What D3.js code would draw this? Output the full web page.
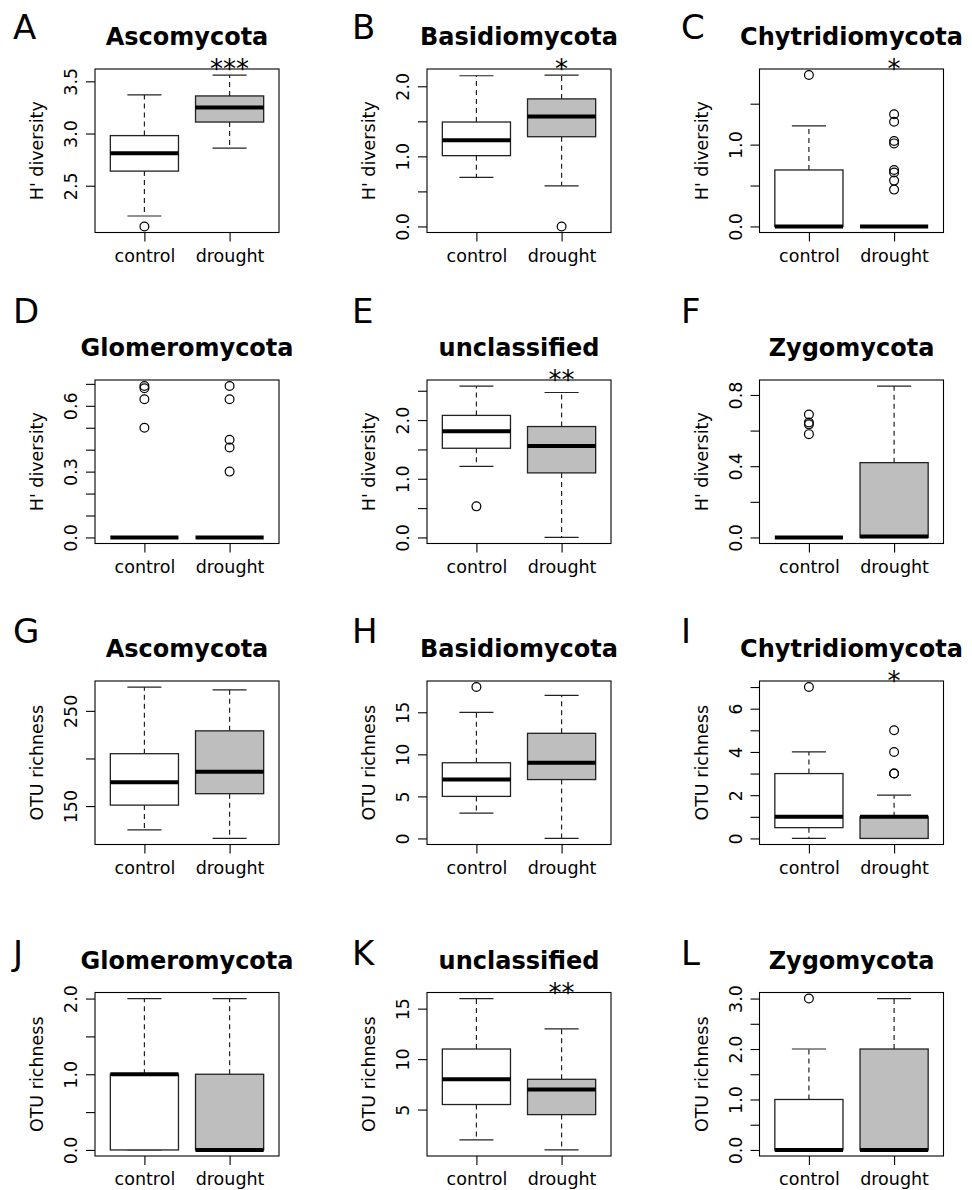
<!DOCTYPE html>
<html>
<head>
<meta charset="utf-8">
<script src="https://cdn.jsdelivr.net/npm/d3@7"></script>
<style>
  body { margin: 0; background: #fff; }
  text { font-family: 'DejaVu Sans', sans-serif; }
</style>
</head>
<body>
<div id="chart"></div>
<script>
// panel data (A..L)
const panelLetters = ["A", "B", "C", "D", "E", "F", "G", "H", "I", "J", "K", "L"]
const phyla = ["Ascomycota", "Basidiomycota", "Chytridiomycota", "Glomeromycota", "unclassified", "Zygomycota",
    "Ascomycota", "Basidiomycota", "Chytridiomycota", "Glomeromycota", "unclassified", "Zygomycota"]
const groups = ["control", "drought"]
const yTitles = ["H' diversity", "H' diversity", "H' diversity", "H' diversity", "H' diversity", "H' diversity",
    "OTU richness", "OTU richness", "OTU richness", "OTU richness", "OTU richness", "OTU richness"]
const signif = ["***", "*", "*", "", "**", "", "", "", "*", "", "**", ""]

// [lower whisker, Q1, median, Q3, upper whisker]
const controlStats = [
    [2.21, 2.64, 2.81, 2.98, 3.37],
    [0.70, 1.01, 1.23, 1.49, 2.15],
    [0, 0, 0, 0.69, 1.23],
    [0, 0, 0, 0, 0],
    [1.21, 1.52, 1.81, 2.08, 2.58],
    [0, 0, 0, 0, 0],
    [125, 151, 175, 205, 275],
    [3, 5, 7, 9, 15],
    [0, 0.5, 1, 3, 4],
    [0, 0, 1, 1, 2],
    [2, 5.5, 8, 11, 16],
    [0, 0, 0, 1, 2]
]
const droughtStats = [
    [2.86, 3.11, 3.25, 3.36, 3.56],
    [0.58, 1.28, 1.57, 1.82, 2.16],
    [0, 0, 0, 0, 0],
    [0, 0, 0, 0, 0],
    [0, 1.10, 1.56, 1.89, 2.47],
    [0, 0, 0.005, 0.42, 0.85],
    [116, 163, 186, 229, 272],
    [0, 7, 9, 12.5, 17],
    [0, 0, 1, 1, 2],
    [0, 0, 0, 1, 2],
    [1, 4.5, 7, 8, 13],
    [0, 0, 0, 2, 3]
]
const controlOutliers = [
    [2.11], [], [1.85], [0.69, 0.68, 0.63, 0.50], [0.53], [0.69, 0.645, 0.635, 0.58],
    [], [18], [7], [], [], [3]
]
const droughtOutliers = [
    [], [0], [1.37, 1.28, 1.045, 1.015, 0.69, 0.66, 0.56, 0.45], [0.69, 0.63, 0.445, 0.41, 0.30], [], [],
    [], [], [5, 4, 3, 3], [], [], []
]

// y axis ticks and their labels (R drops labels that would overlap)
const yTicks = [
    [2.5, 3, 3.5],
    [0, 0.5, 1, 1.5, 2],
    [0, 0.5, 1, 1.5],
    [0, 0.1, 0.2, 0.3, 0.4, 0.5, 0.6, 0.7],
    [0, 0.5, 1, 1.5, 2, 2.5],
    [0, 0.2, 0.4, 0.6, 0.8],
    [150, 200, 250],
    [0, 5, 10, 15],
    [0, 1, 2, 3, 4, 5, 6, 7],
    [0, 0.5, 1, 1.5, 2],
    [5, 10, 15],
    [0, 0.5, 1, 1.5, 2, 2.5, 3]
]
const yLabels = [
    ["2.5", "3.0", "3.5"],
    ["0.0", "", "1.0", "", "2.0"],
    ["0.0", "", "1.0", ""],
    ["0.0", "", "", "0.3", "", "", "0.6", ""],
    ["0.0", "", "1.0", "", "2.0", ""],
    ["0.0", "", "0.4", "", "0.8"],
    ["150", "", "250"],
    ["0", "5", "10", "15"],
    ["0", "", "2", "", "4", "", "6", ""],
    ["0.0", "", "1.0", "", "2.0"],
    ["5", "10", "15"],
    ["0.0", "", "1.0", "", "2.0", "", "3.0"]
]

// layout
const width = 972
const height = 1190
const colLeft = [95, 427, 759.5]
const rowTop = [69, 380, 681, 992.5]
const letterX = [13, 352, 681]
const letterY = [39, 323, 643, 965]
const plotW = 184
const plotH = 163.5
const fills = ["#ffffff", "#bebebe"]

const svg = d3.select('#chart')
    .append('svg')
    .attr('width', width)
    .attr('height', height)
    .style('background', '#fff')

const drawPanel = (i) => {
    const row = Math.floor(i / 3)
    const col = i % 3
    const left = colLeft[col]
    const top = rowTop[row]
    const stats = [controlStats[i], droughtStats[i]]
    const outs = [controlOutliers[i], droughtOutliers[i]]

    // R style range: data range plus 4% each side
    const all = stats.flat().concat(outs.flat())
    const lo = d3.min(all)
    const hi = d3.max(all)
    const pad = (hi - lo) * 0.04

    const yScale = d3.scaleLinear()
        .domain([lo - pad, hi + pad])
        .range([top + plotH, top])
    const xScale = d3.scaleLinear()
        .domain([0.42, 2.58])
        .range([left, left + plotW])

    const g = svg.append('g')

    // boxes
    stats.forEach((s, k) => {
        const cx = k + 1
        const x0 = xScale(cx - 0.4)
        const x1 = xScale(cx + 0.4)
        // whiskers
        g.append('line')
            .attr('x1', xScale(cx)).attr('x2', xScale(cx))
            .attr('y1', yScale(s[3])).attr('y2', yScale(s[4]))
            .attr('stroke', '#222').attr('stroke-width', 1.2)
            .attr('stroke-dasharray', '5,4')
        g.append('line')
            .attr('x1', xScale(cx)).attr('x2', xScale(cx))
            .attr('y1', yScale(s[1])).attr('y2', yScale(s[0]))
            .attr('stroke', '#222').attr('stroke-width', 1.2)
            .attr('stroke-dasharray', '5,4')
        // staples
        ;[s[0], s[4]].forEach(v => {
            g.append('line')
                .attr('x1', xScale(cx - 0.2)).attr('x2', xScale(cx + 0.2))
                .attr('y1', yScale(v)).attr('y2', yScale(v))
                .attr('stroke', '#222').attr('stroke-width', 1.2)
        })
        g.append('rect')
            .attr('x', x0)
            .attr('y', yScale(s[3]))
            .attr('width', x1 - x0)
            .attr('height', yScale(s[1]) - yScale(s[3]))
            .attr('fill', fills[k])
            .attr('stroke', '#222')
            .attr('stroke-width', 1.3)
        g.append('line')
            .attr('x1', x0).attr('x2', x1)
            .attr('y1', yScale(s[2])).attr('y2', yScale(s[2]))
            .attr('stroke', '#000').attr('stroke-width', 4)
        // outliers
        g.selectAll(null)
            .data(outs[k])
            .enter()
            .append('circle')
            .attr('cx', xScale(cx))
            .attr('cy', d => yScale(d))
            .attr('r', 4.4)
            .attr('fill', 'none')
            .attr('stroke', '#000')
            .attr('stroke-width', 1.2)
    })

    // frame
    g.append('rect')
        .attr('x', left).attr('y', top)
        .attr('width', plotW).attr('height', plotH)
        .attr('fill', 'none')
        .attr('stroke', '#000')
        .attr('stroke-width', 1.1)

    // y axis, labels rotated like R
    const labels = yLabels[i]
    const yAxis = d3.axisLeft(yScale)
        .tickValues(yTicks[i])
        .tickSize(9)
        .tickSizeOuter(0)
        .tickFormat((d, j) => labels[j])
    const ya = g.append('g')
        .attr('transform', 'translate(' + left + ',0)')
        .call(yAxis)
    ya.select('.domain').remove()
    ya.selectAll('line').attr('stroke', '#000').attr('stroke-width', 1.1)
    ya.selectAll('text')
        .attr('x', 0)
        .attr('y', -18)
        .attr('dy', 0)
        .attr('transform', 'rotate(-90)')
        .attr('text-anchor', 'middle')
        .attr('fill', '#000')
        .style('font-size', '17.5px')
        .style('font-family', "'DejaVu Sans', sans-serif")

    // x axis
    const xAxis = d3.axisBottom(xScale)
        .tickValues([1, 2])
        .tickSize(9)
        .tickSizeOuter(0)
        .tickFormat(d => groups[d - 1])
    const xa = g.append('g')
        .attr('transform', 'translate(0,' + (top + plotH) + ')')
        .call(xAxis)
    xa.select('.domain').remove()
    xa.selectAll('line').attr('stroke', '#000').attr('stroke-width', 1.1)
    xa.selectAll('text')
        .attr('y', 29)
        .attr('dy', 0)
        .attr('fill', '#000')
        .style('font-size', '17.5px')
        .style('font-family', "'DejaVu Sans', sans-serif")

    // y title
    g.append('text')
        .attr('transform', 'translate(' + (left - 52) + ',' + (top + plotH / 2) + ') rotate(-90)')
        .attr('text-anchor', 'middle')
        .style('font-size', '17.5px')
        .text(yTitles[i])

    // title
    g.append('text')
        .attr('x', left + plotW / 2)
        .attr('y', top - 24)
        .attr('text-anchor', 'middle')
        .style('font-size', '24px')
        .style('font-weight', 'bold')
        .text(phyla[i])

    // significance stars over drought
    if (signif[i]) {
        g.append('text')
            .attr('x', xScale(2))
            .attr('y', top + 9)
            .attr('text-anchor', 'middle')
            .style('font-size', '26px')
            .text(signif[i])
    }

    // panel letter
    g.append('text')
        .attr('x', letterX[col])
        .attr('y', letterY[row])
        .style('font-size', '34px')
        .text(panelLetters[i])
}

for (let i = 0; i < panelLetters.length; i++) {
    drawPanel(i)
}
</script>
</body>
</html>
